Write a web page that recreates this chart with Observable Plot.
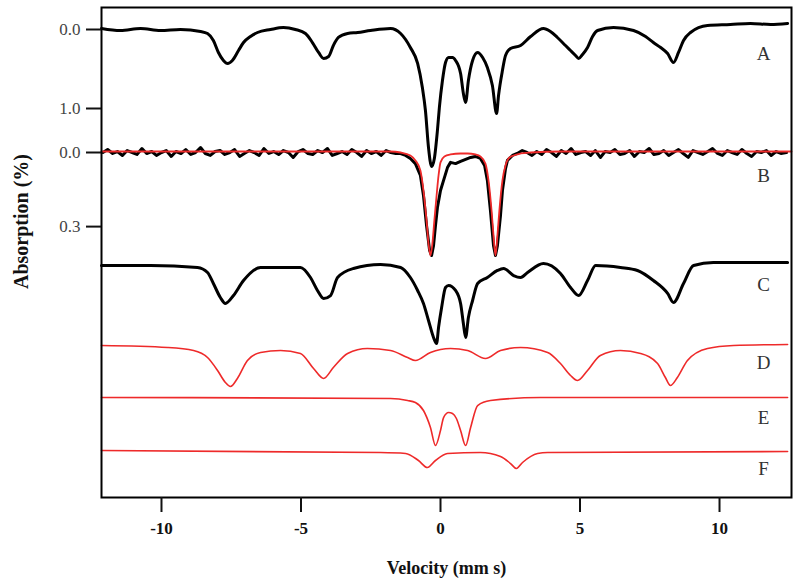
<!DOCTYPE html>
<html><head><meta charset="utf-8">
<script src="https://cdn.jsdelivr.net/npm/d3@7"></script>
<script src="https://cdn.jsdelivr.net/npm/@observablehq/plot@0.6"></script>
<style>
body{margin:0;background:#fff}
svg{display:block}
svg text{font-family:"Liberation Serif","Times New Roman",serif !important}
g[aria-label="y-axis tick label"]{fill:#444}
</style>
</head><body><div id="chart"></div>
<script>
// ---- data: velocity (mm/s) and absorption (%) ----
const velA = [-12.15,-11.47,-10.75,-10.04,-9.32,-8.60,-8.35,-8.14,-7.96,-7.78,-7.63,-7.46,-7.24,-7.06,-6.81,-6.56,-6.09,-5.63,-5.20,-4.84,-4.59,-4.37,-4.19,-4.01,-3.84,-3.66,-3.33,-2.97,-2.51,-1.79,-1.43,-1.08,-0.82,-0.65,-0.54,-0.43,-0.32,-0.22,-0.11,-0.04,0.07,0.18,0.29,0.43,0.54,0.72,0.82,0.90,1.00,1.15,1.33,1.51,1.68,1.86,2.01,2.08,2.22,2.33,2.51,2.87,3.23,3.69,3.94,4.19,4.48,4.66,4.84,4.95,5.09,5.27,5.45,5.63,6.20,6.92,7.35,7.63,7.89,8.14,8.35,8.53,8.71,8.96,9.57,10.39,11.11,11.83,12.44];
const absA = [-0.013,0.013,-0.013,0.013,0.000,0.025,0.051,0.139,0.291,0.392,0.430,0.392,0.266,0.165,0.089,0.038,0.000,-0.025,0.000,0.051,0.165,0.291,0.367,0.342,0.203,0.101,0.051,0.038,0.013,-0.013,0.051,0.228,0.430,0.734,1.025,1.494,1.734,1.633,1.278,0.987,0.646,0.418,0.354,0.354,0.392,0.557,0.810,0.924,0.646,0.392,0.291,0.354,0.481,0.709,1.063,0.835,0.519,0.329,0.241,0.203,0.089,-0.013,0.025,0.101,0.203,0.266,0.329,0.367,0.316,0.228,0.089,0.013,-0.025,0.013,0.089,0.165,0.228,0.304,0.418,0.291,0.139,0.038,-0.051,-0.063,-0.076,-0.063,-0.076];

const velB = [-12.10,-11.93,-11.75,-11.58,-11.40,-11.23,-11.05,-10.88,-10.70,-10.53,-10.35,-10.18,-10.00,-9.83,-9.65,-9.48,-9.30,-9.13,-8.95,-8.78,-8.60,-8.43,-8.25,-8.08,-7.90,-7.73,-7.55,-7.38,-7.20,-7.03,-6.85,-6.68,-6.50,-6.33,-6.15,-5.98,-5.80,-5.63,-5.45,-5.28,-5.10,-4.93,-4.75,-4.58,-4.40,-4.23,-4.05,-3.88,-3.70,-3.53,-3.35,-3.18,-3.00,-2.83,-2.65,-2.48,-2.30,-2.13,-1.95,-1.78,-1.60,
  -1.43,-1.25,-1.08,-0.90,-0.72,-0.61,-0.50,-0.39,-0.32,-0.25,-0.18,-0.11,0.00,0.11,0.25,0.36,0.54,0.72,0.90,1.08,1.25,1.43,1.58,1.68,1.79,1.90,1.97,2.04,2.15,2.22,2.33,2.40,2.58,
  2.75,2.93,3.10,3.28,3.45,3.63,3.80,3.98,4.15,4.33,4.50,4.68,4.85,5.03,5.20,5.38,5.55,5.73,5.90,6.08,6.25,6.43,6.60,6.78,6.95,7.13,7.30,7.48,7.65,7.83,8.00,8.18,8.35,8.53,8.70,8.88,9.05,9.23,9.40,9.58,9.75,9.93,10.10,10.28,10.45,10.63,10.80,10.98,11.15,11.33,11.50,11.68,11.85,12.03,12.20,12.40];
const absB = [0,-0.012,0.004,-0.004,0.012,-0.008,0,0.008,-0.016,0.004,-0.004,0.012,0,-0.008,0.016,-0.004,0.004,-0.012,0.008,0,-0.020,0.004,0.012,-0.004,-0.008,0.008,0,-0.012,0.016,0.004,-0.008,0,0.012,-0.016,0.004,-0.004,0.008,-0.008,0,0.020,-0.004,-0.012,0.004,0.008,-0.008,0,-0.016,0.012,0.004,-0.004,0.008,-0.012,0,0.016,-0.008,0.004,-0.004,0.012,-0.008,0,0.004,
  0.004,0.012,0.024,0.045,0.093,0.174,0.296,0.397,0.417,0.377,0.296,0.223,0.154,0.113,0.061,0.040,0.045,0.036,0.028,0.020,0.016,0.024,0.053,0.113,0.235,0.377,0.417,0.377,0.255,0.154,0.065,0.032,0.012,
  0.004,-0.008,0,0.012,-0.004,0.008,-0.012,0,0.016,-0.008,0.004,-0.016,0.008,0,-0.004,0.012,-0.008,0.020,-0.004,0,-0.012,0.008,0.004,-0.008,0.016,-0.004,0,-0.016,0.008,0.004,-0.008,0.012,0,-0.012,0.004,0.020,-0.008,0,0.008,-0.004,-0.016,0.004,0.012,-0.008,0,0.008,-0.012,0.004,0.016,-0.004,0,-0.008,0.012,-0.004,0.004,0];

const velBfit = [-12.15,-1.79,-1.43,-1.08,-0.90,-0.72,-0.61,-0.50,-0.43,-0.36,-0.29,-0.22,-0.14,-0.07,0.00,0.14,0.36,0.72,0.97,1.25,1.43,1.61,1.72,1.83,1.90,1.97,2.04,2.11,2.22,2.33,2.44,2.62,2.87,3.23,4.30,12.58];
const absBfit = [-0.004,-0.004,0.000,0.012,0.032,0.073,0.154,0.275,0.368,0.417,0.368,0.275,0.174,0.093,0.040,0.016,0.008,0.004,0.004,0.008,0.016,0.045,0.113,0.235,0.336,0.417,0.336,0.235,0.113,0.053,0.024,0.012,0.004,0.000,-0.004,-0.004];

const velC = [-12.15,-10.39,-8.71,-8.35,-8.14,-7.89,-7.71,-7.42,-7.06,-6.45,-5.02,-4.66,-4.41,-4.19,-3.94,-3.69,-3.12,-2.15,-1.43,-1.08,-0.82,-0.61,-0.43,-0.25,-0.14,-0.07,0.04,0.18,0.29,0.54,0.72,0.82,0.90,1.00,1.15,1.33,1.68,2.04,2.26,2.62,2.87,3.12,3.69,4.30,4.66,4.95,5.27,5.56,6.45,7.06,7.63,8.14,8.35,8.71,9.07,9.78,11.11,12.44];
const absC = [0.000,0.000,0.025,0.089,0.228,0.405,0.481,0.380,0.190,0.025,0.025,0.152,0.316,0.418,0.380,0.152,0.038,-0.013,0.025,0.152,0.316,0.481,0.696,0.911,0.987,0.785,0.532,0.278,0.253,0.316,0.481,0.734,0.911,0.658,0.443,0.228,0.152,0.063,0.038,0.127,0.152,0.089,-0.025,0.101,0.278,0.380,0.190,0.000,0.025,0.063,0.190,0.354,0.468,0.228,0.000,-0.038,-0.038,-0.038];

const velD = [-12.15,-9.78,-8.85,-8.35,-7.99,-7.71,-7.53,-7.28,-6.92,-6.45,-5.73,-5.02,-4.55,-4.19,-3.84,-3.33,-2.62,-1.79,-1.18,-0.90,-0.36,0.36,0.97,1.61,2.15,2.87,3.84,4.30,4.66,4.91,5.27,5.73,6.45,7.17,7.78,8.06,8.24,8.49,8.85,9.57,10.50,12.44];
const absD = [0.013,0.038,0.076,0.165,0.329,0.481,0.532,0.430,0.203,0.101,0.076,0.114,0.304,0.430,0.291,0.114,0.051,0.076,0.165,0.203,0.101,0.051,0.076,0.177,0.076,0.038,0.101,0.241,0.392,0.456,0.329,0.139,0.076,0.114,0.241,0.418,0.519,0.418,0.203,0.051,0.013,0.000];

const velE = [-12.15,-1.79,-1.18,-0.90,-0.61,-0.36,-0.18,0.00,0.11,0.29,0.43,0.57,0.72,0.90,1.08,1.33,1.79,3.58,12.44];
const absE = [-0.013,0.000,0.025,0.051,0.152,0.367,0.595,0.405,0.241,0.177,0.190,0.253,0.405,0.595,0.367,0.089,0.025,-0.013,-0.013];

const velF = [-12.15,-2.15,-1.25,-0.79,-0.47,-0.18,0.25,1.43,2.15,2.51,2.72,2.94,3.48,3.84,12.44];
const absF = [-0.013,0.013,0.025,0.114,0.203,0.114,0.025,0.013,0.063,0.152,0.215,0.139,0.025,0.013,0.000];

const xTicks = [-10, -5, 0, 5, 10];
const xTickLabels = ["-10", "-5", "0", "5", "10"];
const yTickTrace = ["A", "A", "B", "B"];
const yTickValues = [0.0, 1.0, 0.0, 0.3];
const yTickLabels = ["0.0", "1.0", "0.0", "0.3"];
const xLabel = "Velocity (mm s)";
const yLabel = "Absorption (%)";

// ---- layout: stacked offsets (stack units) and scale per trace ----
const traces = [
  {name: "A", vel: velA, abs: absA, base: 22, k: 79, ldy: 24},
  {name: "B", vel: velB, abs: absB, base: 145, k: 247, ldy: 23},
  {name: "C", vel: velC, abs: absC, base: 258, k: 79, ldy: 19},
  {name: "D", vel: velD, abs: absD, base: 337, k: 79, ldy: 18},
  {name: "E", vel: velE, abs: absE, base: 391, k: 79, ldy: 19},
  {name: "F", vel: velF, abs: absF, base: 444, k: 79, ldy: 17}
];
const byName = Object.fromEntries(traces.map(t => [t.name, t]));
const rows = (vel, abs, t) => vel.map((v, i) => ({x: v, y: t.base + abs[i] * t.k}));

const dataA = rows(velA, absA, byName.A);
const dataB = rows(velB, absB, byName.B);
const dataBfit = rows(velBfit, absBfit, byName.B);
const dataC = rows(velC, absC, byName.C);
const dataD = rows(velD, absD, byName.D);
const dataE = rows(velE, absE, byName.E);
const dataF = rows(velF, absF, byName.F);

const yTickPos = yTickValues.map((v, i) => byName[yTickTrace[i]].base + v * byName[yTickTrace[i]].k);
const yLabelMap = new Map(yTickPos.map((p, i) => [p, yTickLabels[i]]));
const xLabelMap = new Map(xTicks.map((t, i) => [t, xTickLabels[i]]));

const serif = "Liberation Serif";
const red = "#ee2a2a";

const chart = Plot.plot({
  width: 800,
  height: 587,
  marginLeft: 101,
  marginRight: 9,
  marginTop: 7,
  marginBottom: 90,
  x: {domain: [-12.15, 12.58]},
  y: {domain: [490, 0]},
  marks: [
    Plot.line(dataA, {x: "x", y: "y", stroke: "black", strokeWidth: 3, curve: "monotone-x"}),
    Plot.line(dataB, {x: "x", y: "y", stroke: "black", strokeWidth: 3}),
    Plot.line(dataBfit, {x: "x", y: "y", stroke: red, strokeWidth: 1.8, curve: "monotone-x"}),
    Plot.line(dataC, {x: "x", y: "y", stroke: "black", strokeWidth: 3, curve: "monotone-x"}),
    Plot.line(dataD, {x: "x", y: "y", stroke: red, strokeWidth: 1.6, curve: "monotone-x"}),
    Plot.line(dataE, {x: "x", y: "y", stroke: red, strokeWidth: 1.6, curve: "monotone-x"}),
    Plot.line(dataF, {x: "x", y: "y", stroke: red, strokeWidth: 1.6, curve: "monotone-x"}),
    Plot.frame({stroke: "black", strokeWidth: 2}),
    Plot.axisX(xTicks, {tickSize: 15, tickPadding: 9, strokeWidth: 2, tickFormat: d => xLabelMap.get(d),
      fontSize: 17, fontWeight: "bold", fontFamily: serif, color: "#111", label: null}),
    Plot.axisY(yTickPos, {tickSize: 15, tickPadding: 6, strokeWidth: 2, tickFormat: d => yLabelMap.get(d),
      fontSize: 17, fontFamily: serif, color: "#111", label: null}),
    Plot.text(traces, {frameAnchor: "right", dx: -28, y: t => t.base + t.ldy, text: "name", textAnchor: "middle",
      fontSize: 19, fontFamily: serif, fill: "#333"}),
    Plot.text([xLabel], {frameAnchor: "bottom", dy: 76, textAnchor: "middle", fontSize: 18, fontWeight: "bold", fontFamily: serif, fill: "#111"}),
    Plot.text([yLabel], {frameAnchor: "left", dx: -80, dy: -31, rotate: -90, textAnchor: "middle", fontSize: 20, fontWeight: "bold", fontFamily: serif, fill: "#111"})
  ]
});
document.getElementById("chart").append(chart);
</script>
</body></html>
